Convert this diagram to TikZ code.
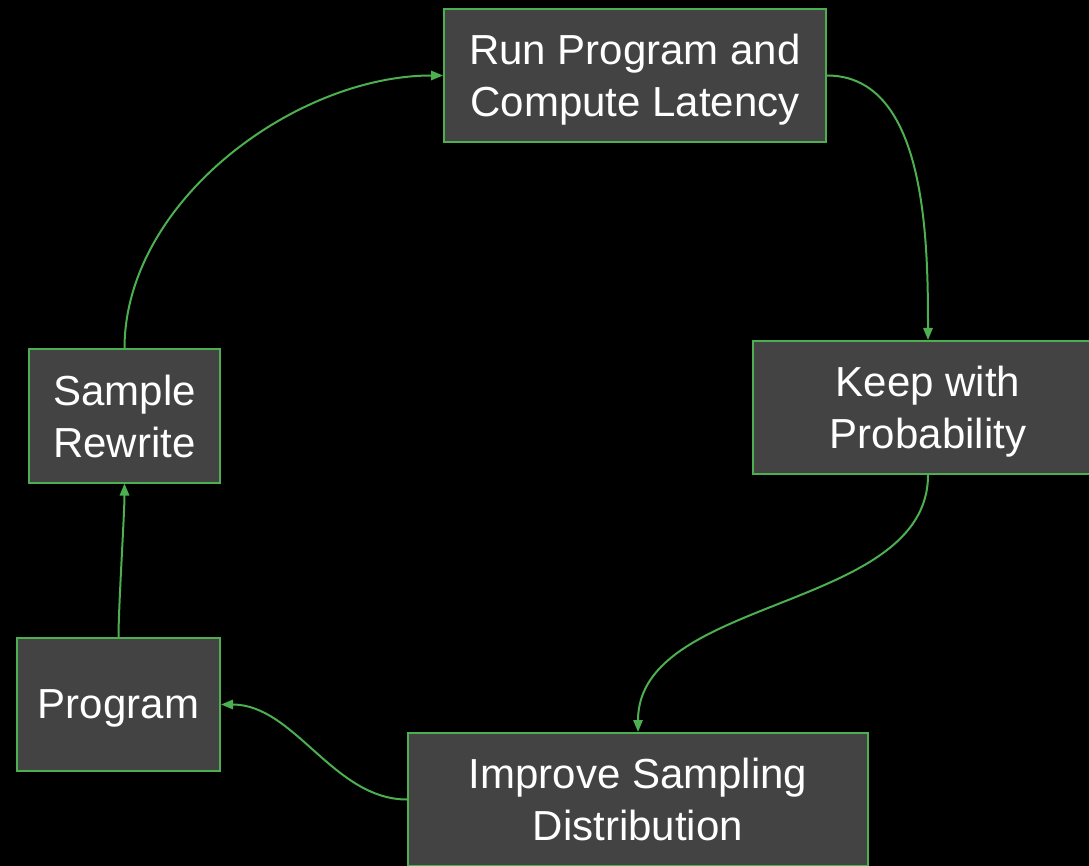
\documentclass[tikz,border=0pt]{standalone}
\usepackage{fontspec}
\setmainfont{Liberation Sans}
\usetikzlibrary{arrows.meta}
\definecolor{boxfill}{HTML}{434343}
\definecolor{boxline}{HTML}{4CAF50}
\begin{document}
\begin{tikzpicture}[x=0.75pt,y=-0.75pt,line width=1.5pt,
    stepbox/.style={draw=boxline,fill=boxfill,text=white,align=center,inner sep=0pt,
      text depth=0pt,minimum height=99.75pt,font=\fontsize{31.5}{39}\selectfont},
    flow/.style={boxline,-{Triangle[length=9pt,width=7pt]}}]

    \fill[black] (0,0) rectangle (1089,866);
    \useasboundingbox (0,0) rectangle (1089,866);

        \node [stepbox,minimum width=286.5pt] (run) at (635,75.5) {Run Program and\\Compute Latency};
        \node [stepbox,minimum width=262.5pt] (keep) at (928,407.5) {Keep with\\Probability};
        \node [stepbox,minimum width=345pt] (improve) at (638,799.5) {Improve Sampling\\Distribution};
        \node [stepbox,minimum width=152.25pt] (prog) at (118.5,704.5) {Program};
        \node [stepbox,minimum width=143.25pt] (sample) at (124.5,416) {Sample\\Rewrite};

        \draw[flow] (sample.north) to[out=90,in=180,looseness=0.9] (run.west);
        \draw[flow] (run.east) to[out=0,in=90,looseness=0.9] (keep.north);
        \draw[flow] (keep.south) to[out=-90,in=90,looseness=0.9] (improve.north);
        \draw[flow] (improve.west) to[out=180,in=0,looseness=0.9] (prog.east);
        \draw[flow] (prog.north) to[out=90,in=-90,looseness=0.5] (sample.south);

    \end{tikzpicture}
\end{document}
